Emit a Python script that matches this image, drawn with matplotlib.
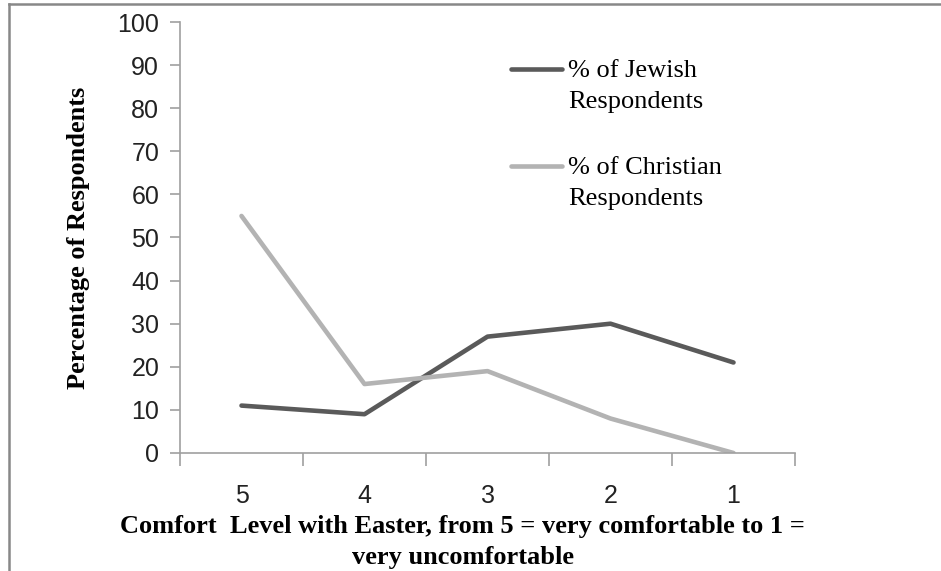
import matplotlib.pyplot as plt
from matplotlib.lines import Line2D
import numpy as np

levels = ["5", "4", "3", "2", "1"]
jewish = [11, 9, 27, 30, 21]
christian = [55, 16, 19, 8, 0]
series_names = ["% of Jewish\nRespondents", "% of Christian\nRespondents"]
y_ticks = list(range(0, 101, 10))

fig = plt.figure(figsize=(9.41, 5.71), dpi=100)
ax = fig.add_axes([180 / 941, 118 / 571, 615 / 941, 431 / 571])

x = np.arange(1, len(levels) + 1)
ax.plot(x, jewish, color="#5a5a5a", lw=3.3, solid_capstyle="round")
ax.plot(x, christian, color="#b3b3b3", lw=3.3, solid_capstyle="round")

axis_col = "#a0a0a0"
ax.set_xlim(0.5, len(levels) + 0.5)
ax.set_ylim(0, 100)
for s in ["top", "right"]:
    ax.spines[s].set_visible(False)
for s in ["left", "bottom"]:
    ax.spines[s].set_color(axis_col)
    ax.spines[s].set_linewidth(1.2)
    ax.spines[s].set_clip_on(False)

ax.set_yticks(y_ticks)
ax.set_yticklabels([str(v) for v in y_ticks], fontsize=18, family="Liberation Sans", color="#222222")
ax.tick_params(axis="y", length=7, width=1.2, color=axis_col, pad=8)

ax.set_xticks(np.arange(0.5, len(levels) + 1))
ax.set_xticklabels([])
ax.tick_params(axis="x", which="major", length=9, width=1.2, color=axis_col)
ax.set_xticks(x, minor=True)
ax.set_xticklabels(levels, minor=True, fontsize=18, family="Liberation Sans", color="#222222")
ax.tick_params(axis="x", which="minor", length=0, pad=22)

ax.set_ylabel("Percentage of Respondents", family="Liberation Serif", fontweight="bold",
              fontsize=19, labelpad=20)
ax.set_xlabel("Comfort  Level with Easter, from 5 = very comfortable to 1 =\nvery uncomfortable",
              family="Liberation Serif", fontweight="bold", fontsize=19,
              linespacing=1.4)
ax.xaxis.set_label_coords(0.46, -0.145)
ax.xaxis.label.set_va("top")

# legend drawn by hand next to the lines
for name, col, ypx in [(series_names[0], "#5a5a5a", 69), (series_names[1], "#b3b3b3", 166)]:
    yy = 1 - ypx / 571
    fig.add_artist(Line2D([511 / 941, 562 / 941], [yy, yy], color=col, lw=3.3,
                          solid_capstyle="round"))
    fig.text(568 / 941, yy + 9 / 571, name, family="Liberation Serif", fontsize=19,
             va="top", ha="left", linespacing=1.55)

# outer frame (top and left edges visible)
fig.add_artist(Line2D([8.5 / 941, 1.0], [1 - 4 / 571, 1 - 4 / 571], color="#888888", lw=1.8))
fig.add_artist(Line2D([8.5 / 941, 8.5 / 941], [0, 1 - 4 / 571], color="#888888", lw=1.8))

fig.savefig("out.png", dpi=100)
